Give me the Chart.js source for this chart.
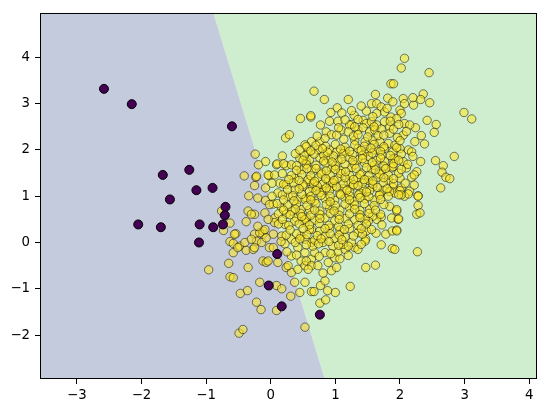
<!DOCTYPE html>
<html><head><meta charset="utf-8">
<script src="https://cdn.jsdelivr.net/npm/chart.js@4"></script>
<style>html,body{margin:0;padding:0;background:#fff;} canvas{display:block;}</style>
</head><body>
<canvas id="c" width="546" height="413"></canvas>
<script>
const xRange = [-3.57, 4.12];
const yRange = [-2.95, 4.96];
const xTickValues = [-3, -2, -1, 0, 1, 2, 3, 4];
const xTickLabels = ['−3', '−2', '−1', '0', '1', '2', '3', '4'];
const yTickValues = [-2, -1, 0, 1, 2, 3, 4];
const yTickLabels = ['−2', '−1', '0', '1', '2', '3', '4'];
const boundaryPoints = [[-0.94, 5.2], [0.89, -3.2]];

const class0Points = [
  [-2.58,3.32],[-2.15,2.99],[-0.60,2.51],[-1.26,1.57],[-1.67,1.46],[-0.90,1.18],[-1.15,1.13],
  [-1.56,0.93],[-0.70,0.77],[-0.71,0.59],[-2.05,0.39],[-1.70,0.33],[-1.10,0.39],[-0.89,0.33],
  [-0.74,0.39],[-1.11,0.00],[0.10,-0.25],[-0.03,-0.93],[0.17,-1.38],[0.76,-1.56]
];

const class1Points = [
  [-0.24,1.91],[-0.08,1.75],[-0.19,1.68],[-0.41,1.44],[-0.23,1.41],[-0.25,1.23],[-0.03,1.45],
  [-0.34,1.01],[-0.20,0.96],[-0.08,0.91],[0.04,0.83],[-0.08,1.18],[0.09,1.68],
  [0.46,2.68],[0.62,2.71],[0.23,2.26],[0.29,2.33],[0.18,1.87],[0.10,1.70],[0.24,1.66],
  [-0.22,1.43],[-0.04,1.46],[-0.35,0.68],[-0.25,0.61],[-0.76,0.68],
  [0.06,1.46],[0.14,1.28],[0.24,1.25],[0.37,1.39],[0.47,1.57],[0.55,1.75],[0.58,1.96],
  [0.63,2.18],[0.53,2.11],[0.45,1.82],[0.32,1.68],[0.37,1.14],[0.50,1.21],[0.60,1.32],
  [0.11,1.07],[0.27,1.00],[0.42,0.93],[0.55,0.96],[-0.02,0.82],[0.17,0.75],[0.32,0.68],
  [0.47,0.71],[-0.09,0.64],[0.06,0.53],[0.24,0.61],[0.40,0.53],[0.55,0.53],
  [-0.38,0.45],[-0.30,0.61],[-0.63,0.42],[-0.73,0.26],[-0.54,0.19],[-0.63,0.02],[-0.58,-0.02],
  [-0.48,-0.08],[-0.40,0.00],[-0.38,-0.17],[-0.58,-0.22],[-0.25,0.18],[-0.22,0.03],[-0.12,0.18],
  [-0.12,0.25],[-0.27,-0.15],[-0.02,-0.11],[-0.12,-0.40],[-0.07,-0.43],[-0.65,-0.45],[-0.96,-0.59],
  [-0.63,-0.74],[-0.58,-0.76],[-0.35,-0.54],[-0.17,-0.86],[-0.47,-1.10],[-0.36,-1.04],[-0.22,-1.29],
  [-0.15,-1.45],[0.09,-1.47],[-0.49,-1.96],[-0.43,-1.88],
  [-0.56,0.18],[-0.51,-0.11],[-0.25,-0.11],[-0.14,0.00],[-0.07,0.10],[-0.17,0.21],[-0.09,0.28],
  [0.04,-0.11],[-0.04,-0.40],[0.11,-0.43],[0.24,-0.54],[0.32,-0.65],[0.09,-0.93],[0.17,-1.00],
  [0.37,-0.86],[0.31,-1.16],[0.45,-1.08],[0.53,-0.86],[0.63,-1.06],[0.53,-1.83],
  [0.06,0.43],[0.22,0.39],[0.37,0.46],[0.53,0.43],[0.63,0.28],[0.17,0.14],[0.32,0.07],[0.47,0.14],
  [0.63,0.00],[0.42,-0.11],[0.53,-0.22],[0.63,-0.36],[0.32,-0.29],[0.47,-0.40],[0.27,-0.50],
  [0.42,-0.58],[0.53,-0.50],[-0.30,0.07],[-0.20,0.35],[-0.04,0.50],
  [1.86,3.43],[0.67,3.27],[0.83,3.09],[1.20,3.09],[1.62,3.20],[1.81,3.12],[0.62,2.74],[0.93,2.81],
  [1.03,2.91],[1.10,2.80],[1.29,2.75],[1.48,2.84],[1.56,3.00],[1.64,3.00],[1.71,2.93],[1.76,2.82],
  [1.64,2.79],[1.86,2.71],[0.77,2.54],[0.91,2.62],[1.04,2.62],[1.25,2.55],[1.43,2.64],[1.48,2.57],
  [1.56,2.61],[1.64,2.54],[1.76,2.61],[1.84,2.50],[0.86,2.39],[0.94,2.33],[1.09,2.43],[1.22,2.54],
  [1.20,2.39],[1.35,2.43],[1.43,2.48],[1.53,2.39],[1.61,2.43],[1.71,2.45],[1.84,2.36],[0.76,2.18],
  [0.84,2.25],[1.13,2.23],[1.30,2.21],[1.46,2.18],[1.58,2.21],[1.69,2.18],[1.82,2.14],[0.73,2.00],
  [0.91,2.00],[1.02,1.96],[1.15,1.98],[1.35,2.03],[1.48,1.96],[1.61,2.00],[1.76,2.03],[1.89,1.96],
  [0.60,1.79],[0.76,1.83],[0.89,1.82],[1.04,1.76],[1.20,1.84],[1.35,1.79],[1.51,1.86],[1.64,1.77],
  [1.76,1.75],[1.89,1.81],
  [0.63,1.57],[0.78,1.52],[0.94,1.60],[1.09,1.55],[1.25,1.62],[1.40,1.50],[1.56,1.58],[1.71,1.54],[1.87,1.61],
  [0.58,1.36],[0.73,1.40],[0.89,1.33],[1.04,1.38],[1.20,1.31],[1.35,1.39],[1.51,1.34],[1.66,1.41],[1.82,1.35],
  [0.65,1.18],[0.81,1.14],[0.96,1.21],[1.12,1.16],[1.27,1.22],[1.43,1.15],[1.58,1.20],[1.74,1.13],[1.89,1.19],
  [2.07,3.98],[2.02,3.77],[2.45,3.67],[1.90,3.43],[2.36,3.21],[2.32,3.09],[2.46,3.02],[2.21,2.97],
  [2.20,3.13],[2.05,3.11],[2.07,3.00],[1.89,3.04],[2.99,2.81],[3.11,2.67],[2.42,2.64],[2.56,2.55],
  [2.53,2.38],[2.00,2.86],[2.02,2.79],[1.95,2.68],[2.07,2.57],[2.24,2.48],[2.15,2.54],[2.05,2.32],
  [2.33,2.31],[2.38,2.13],[2.23,2.18],[2.13,2.00],[2.00,2.03],[2.18,1.96],[1.92,1.82],[2.05,1.75],
  [2.20,1.86],[2.32,1.75],[1.89,1.64],[2.10,1.61],[2.26,1.53],[2.00,1.39],[2.18,1.41],[2.02,1.18],
  [2.15,1.11],[2.28,1.01],[1.92,1.07],[2.07,1.00],[2.55,1.77],[2.84,1.86],[2.67,1.66],[2.65,1.52],
  [2.71,1.41],[2.77,1.38],[2.63,1.18],
  [1.84,0.78],[1.95,0.68],[1.71,0.55],[1.87,0.53],[1.97,0.50],[1.63,0.20],[1.78,0.18],[1.88,0.25],
  [1.95,0.27],[1.71,-0.05],[1.88,-0.13],[1.47,0.07],[1.47,-0.54],[1.62,-0.49],[1.23,-0.95],[1.00,-1.08],
  [0.67,-1.06],[0.88,-1.04],[0.77,-0.93],[0.76,-1.31],[0.85,-1.24],[0.84,-0.83],[0.81,-0.66],[0.94,-0.61],
  [1.02,-0.54],[0.55,-0.40],[0.63,-0.50],[0.73,-0.50],[0.89,-0.43],[0.68,-0.22],[0.84,-0.22],[0.99,-0.33],
  [1.07,-0.35],[1.04,-0.20],[1.15,-0.15],[1.30,-0.11],[1.35,-0.15],[1.25,0.00],[1.46,0.03],[1.35,0.21],
  [1.48,0.25],[1.56,0.28],[1.64,0.50],[1.58,0.57],[1.51,0.46],[0.58,-0.58],[0.65,-0.08],[0.81,0.00],
  [0.96,-0.08],[1.12,-0.04],
  [0.60,1.10],[0.76,1.08],[0.91,1.12],[1.07,1.06],[1.22,1.10],[1.38,1.07],[1.53,1.12],[1.69,1.05],[1.84,1.10],[2.00,1.12],
  [0.53,0.93],[0.68,0.90],[0.84,0.95],[0.99,0.91],[1.15,0.96],[1.30,0.89],[1.46,0.94],[1.61,0.92],
  [0.60,0.71],[0.76,0.68],[0.91,0.74],[1.07,0.70],[1.22,0.75],[1.38,0.69],[1.53,0.72],
  [0.53,0.50],[0.68,0.48],[0.84,0.53],[0.99,0.47],[1.15,0.52],[1.30,0.49],[1.46,0.51],
  [0.60,0.28],[0.76,0.25],[0.91,0.31],[1.07,0.27],[1.22,0.30],
  [0.53,0.07],[0.68,0.05],[0.99,0.09],[0.84,0.14],[1.15,0.12],[1.05,0.35],
  [2.28,1.00],[2.28,0.80],[2.26,0.61],[2.31,0.64],[1.95,0.71],[1.98,0.51],[1.95,0.25],[2.27,-0.20],
  [1.92,-0.15],[2.13,1.05],[2.02,1.03],
  [0.55,2.07],[0.70,2.10],[0.85,2.08],[1.00,2.12],[1.15,2.06],[1.30,2.11],[1.45,2.08],[1.60,2.12],[1.75,2.07],[1.92,2.10],
  [0.72,2.30],[1.02,2.32],[1.28,2.30],[1.66,2.31],[1.96,2.27],
  [0.38,1.92],[0.52,1.88],[0.67,1.91],[0.82,1.89],[0.97,1.87],[1.12,1.92],[1.27,1.90],[1.42,1.88],[1.57,1.93],[1.72,1.89],[1.85,1.88],[2.02,1.91],
  [0.20,1.70],[0.40,1.66],[0.55,1.69],[0.70,1.67],[0.85,1.71],[1.00,1.66],[1.15,1.69],[1.30,1.68],[1.45,1.72],[1.60,1.67],[1.75,1.65],[1.90,1.70],[2.12,1.69],
  [0.18,1.49],[0.32,1.45],[0.48,1.47],[0.62,1.44],[0.78,1.48],[0.92,1.46],[1.08,1.49],[1.22,1.45],[1.38,1.47],[1.52,1.44],[1.68,1.48],[1.82,1.46],[1.98,1.50],[2.22,1.46],
  [0.02,1.28],[0.20,1.26],[0.35,1.29],[0.50,1.25],[0.66,1.28],[0.80,1.26],[0.96,1.29],[1.12,1.27],[1.28,1.25],[1.42,1.28],[1.58,1.26],[1.74,1.29],[1.90,1.27],[2.08,1.28],[2.22,1.24],
  [0.02,1.00],[0.18,1.03],[0.34,1.01],[0.48,1.04],[0.62,1.00],[0.78,1.02],[0.92,1.00],[1.08,1.03],[1.22,1.01],[1.36,1.03],[1.52,0.99],[1.68,1.02],[1.82,1.00],[1.98,1.03],
  [0.10,0.84],[0.26,0.81],[0.40,0.83],[0.56,0.80],[0.70,0.84],[0.86,0.82],[1.00,0.80],[1.15,0.83],[1.30,0.81],[1.45,0.84],[1.60,0.80],[1.75,0.82],
  [0.12,0.62],[0.30,0.60],[0.46,0.63],[0.62,0.59],[0.76,0.61],[0.92,0.63],[1.06,0.59],[1.22,0.62],[1.38,0.60],[1.52,0.63],[1.70,0.61],
  [0.12,0.40],[0.28,0.37],[0.44,0.40],[0.60,0.38],[0.75,0.41],[0.90,0.37],[1.20,0.40],[1.35,0.37],[1.48,0.40],[1.72,0.38],
  [0.04,0.18],[0.24,0.16],[0.40,0.19],[0.56,0.17],[0.72,0.15],[0.92,0.19],[1.06,0.16],[1.28,0.14],[1.42,0.18],
  [0.22,-0.03],[0.38,0.00],[0.55,-0.05],[0.74,-0.03],[0.90,0.02],[1.05,-0.06],[1.20,-0.08],[1.40,-0.04],
  [0.25,-0.20],[0.40,-0.27],[0.75,-0.30],[0.93,-0.24],[1.20,-0.28],
  [1.35,2.33],[1.50,2.28],[1.90,2.45],[1.98,2.55],[2.10,2.40],[1.15,2.65],[1.35,2.66],[1.58,2.72],[1.80,2.90],
  [0.70,1.60],[1.00,1.58],[1.32,1.60],[1.62,1.57],[0.85,1.38],[1.15,1.40],[1.45,1.36],[1.75,1.40],
  [0.72,1.22],[1.02,1.20],[1.35,1.23],[1.65,1.19],[0.88,1.95],[1.22,1.97],[1.55,2.04],[0.95,1.74],[1.27,1.77],[1.57,1.73],
  [0.45,2.00],[0.62,1.98],[0.80,2.03],[1.08,2.02],[1.40,1.99],[1.70,1.97],[1.95,2.05],
  [0.50,1.78],[0.82,1.76],[1.10,1.80],[1.42,1.81],[1.70,1.83],[1.98,1.78],
  [0.40,1.56],[0.56,1.60],[0.86,1.55],[1.16,1.53],[1.48,1.62],[1.78,1.60],[2.02,1.58],
  [0.28,1.36],[0.44,1.34],[0.68,1.32],[0.98,1.34],[1.28,1.36],[1.58,1.33],[1.90,1.38],
  [0.26,1.14],[0.44,1.16],[0.70,1.12],[0.86,1.18],[1.18,1.13],[1.48,1.09],[1.80,1.16],
  [0.20,0.92],[0.36,0.90],[0.62,0.92],[0.92,0.88],[1.22,0.92],[1.38,0.97],[1.70,0.93],
  [0.20,0.70],[0.38,0.72],[0.68,0.70],[0.98,0.68],[1.30,0.72],[1.62,0.70],
  [0.18,0.50],[0.48,0.56],[0.76,0.52],[1.06,0.50],[1.38,0.54],
  [0.30,0.27],[0.50,0.30],[0.84,0.30],[1.14,0.28],[1.40,0.30],
  [0.16,0.02],[0.45,0.08],[0.78,0.08],[1.10,0.06],
  [1.05,2.48],[1.30,2.50],[1.60,2.50],[1.75,2.32],[2.00,2.20],[1.85,2.62],[1.25,2.85],[1.40,2.95]
];

const lavender = 'rgb(196,203,220)';
const green = 'rgb(207,238,208)';
const toXY = arr => arr.map(([x, y]) => ({x, y}));

const framePlugin = {
  id: 'frame',
  afterDraw(chart) {
    const {ctx, chartArea: a} = chart;
    ctx.save();
    ctx.strokeStyle = '#000';
    ctx.lineWidth = 1;
    ctx.strokeRect(a.left + 0.5, a.top + 0.5, a.right - a.left - 1, a.bottom - a.top - 1);
    ctx.restore();
  }
};

Chart.defaults.font.family = 'DejaVu Sans';
Chart.defaults.font.size = 13.3;
Chart.defaults.color = '#000';

new Chart(document.getElementById('c'), {
  type: 'scatter',
  data: {
    datasets: [
      {
        data: toXY(class0Points),
        backgroundColor: '#440154',
        borderColor: '#000',
        borderWidth: 1,
        pointRadius: 4.5,
        order: 1
      },
      {
        data: toXY(class1Points),
        backgroundColor: 'rgba(253,231,37,0.55)',
        borderColor: 'rgba(0,0,0,0.5)',
        borderWidth: 1,
        pointRadius: 4.2,
        order: 2
      },
      {
        type: 'line',
        indexAxis: 'y',
        data: toXY(boundaryPoints),
        fill: {value: xRange[0]},
        backgroundColor: lavender,
        borderColor: 'rgba(0,0,0,0)',
        borderWidth: 0,
        pointRadius: 0,
        showLine: true,
        order: 10
      },
      {
        type: 'line',
        indexAxis: 'y',
        data: toXY(boundaryPoints),
        fill: {value: xRange[1]},
        backgroundColor: green,
        borderColor: 'rgba(0,0,0,0)',
        borderWidth: 0,
        pointRadius: 0,
        showLine: true,
        order: 11
      }
    ]
  },
  options: {
    responsive: false,
    animation: false,
    devicePixelRatio: 1,
    layout: {padding: {top: 10, right: 9, left: 0, bottom: 0}},
    plugins: {legend: {display: false}, tooltip: {enabled: false}},
    events: [],
    scales: {
      x: {
        type: 'linear',
        min: xRange[0], max: xRange[1],
        afterBuildTicks: s => { s.ticks = xTickValues.map(v => ({value: v})); },
        afterFit: s => { s.height = 34; },
        ticks: {
          padding: 4,
          maxRotation: 0,
          callback: v => xTickLabels[xTickValues.indexOf(v)]
        },
        grid: {drawOnChartArea: false, drawTicks: true, tickLength: 5, tickColor: '#000', tickWidth: 1},
        border: {display: false}
      },
      y: {
        type: 'linear',
        min: yRange[0], max: yRange[1],
        afterBuildTicks: s => { s.ticks = yTickValues.map(v => ({value: v})); },
        afterFit: s => { s.width = 40; },
        ticks: {
          padding: 5,
          callback: v => yTickLabels[yTickValues.indexOf(v)]
        },
        grid: {drawOnChartArea: false, drawTicks: true, tickLength: 5, tickColor: '#000', tickWidth: 1},
        border: {display: false}
      }
    }
  },
  plugins: [framePlugin]
});
</script>
</body></html>
